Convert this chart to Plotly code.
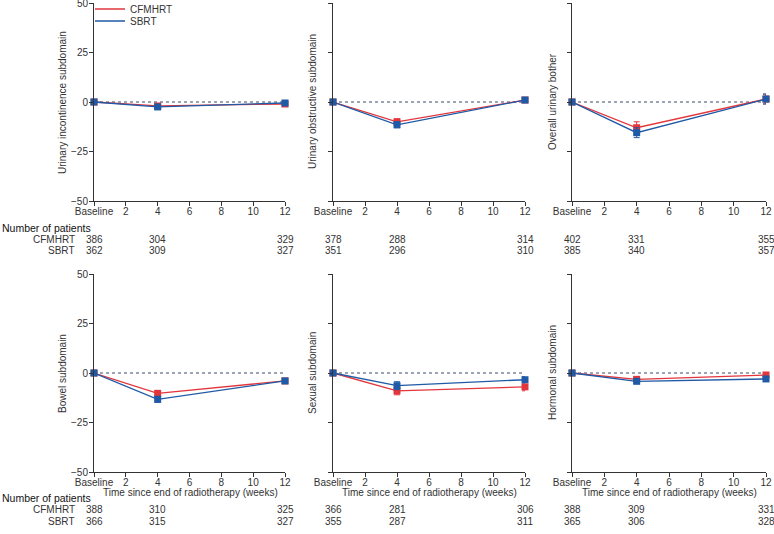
import plotly.graph_objects as go

# ---- data ----
weeks = [0, 4, 12]
x_tick_vals = [0, 2, 4, 6, 8, 10, 12]
x_tick_text = ["Baseline", "2", "4", "6", "8", "10", "12"]
y_tick_vals = [50, 25, 0, -25, -50]
y_tick_text = ["50", "25", "0", "\u221225", "\u221250"]

panel_titles = [
    "Urinary incontinence subdomain",
    "Urinary obstructive subdomain",
    "Overall urinary bother",
    "Bowel subdomain",
    "Sexual subdomain",
    "Hormonal subdomain",
]

cfmhrt_mean = [
    [0, -2.0, -1.0],
    [0, -10.0, 1.0],
    [0, -13.0, 1.5],
    [0, -10.3, -4.0],
    [0, -9.0, -7.0],
    [0, -3.2, -1.0],
]
cfmhrt_err = [
    [0.3, 1.0, 1.2],
    [0.3, 1.5, 1.0],
    [0.3, 3.0, 2.5],
    [0.3, 1.5, 1.0],
    [0.3, 2.0, 2.0],
    [0.3, 1.0, 1.0],
]
sbrt_mean = [
    [0, -2.5, -0.5],
    [0, -11.5, 1.0],
    [0, -15.5, 1.5],
    [0, -13.3, -4.0],
    [0, -6.4, -3.4],
    [0, -4.2, -3.0],
]
sbrt_err = [
    [0.3, 1.0, 1.2],
    [0.3, 1.5, 1.0],
    [0.3, 2.5, 2.5],
    [0.3, 1.5, 1.0],
    [0.3, 2.0, 1.5],
    [0.3, 1.0, 1.0],
]

n_cfmhrt = [
    [386, 304, 329],
    [378, 288, 314],
    [402, 331, 355],
    [388, 310, 325],
    [366, 281, 306],
    [388, 309, 331],
]
n_sbrt = [
    [362, 309, 327],
    [351, 296, 310],
    [385, 340, 357],
    [366, 315, 327],
    [355, 287, 311],
    [365, 306, 328],
]

RED = "#e2363c"
BLUE = "#1f5aa6"
AXIS = "#333333"
TXT = "#333333"
FONT = "Liberation Sans Narrow, Arial Narrow, Liberation Sans, sans-serif"
FS = 10
TFS = 10
W, H = 774, 534

# pixel layout of the plot areas
x_px = [(94, 285), (333, 525), (572, 766)]
y_px = [(3, 201), (274, 472)]

def px_x(p):
    return p / W

def px_y(p):
    return 1 - p / H

fig = go.Figure()
layout = {}
annotations = []
shapes = []

for i in range(6):
    row, col = divmod(i, 3)
    ax = "" if i == 0 else str(i + 1)
    xa, ya = "x" + ax, "y" + ax
    xdom = [px_x(x_px[col][0]), px_x(x_px[col][1])]
    ydom = [px_y(y_px[row][1]), px_y(y_px[row][0])]
    layout["xaxis" + ax] = dict(
        domain=xdom, anchor=ya, range=[0, 12], tickvals=x_tick_vals,
        ticktext=x_tick_text, ticks="outside", ticklen=4, tickcolor=AXIS,
        showline=True, linecolor=AXIS, linewidth=1, showgrid=False,
        zeroline=False, tickfont=dict(size=TFS, color=TXT), automargin=False,
        ticklabeloverflow="allow", ticklabelstandoff=-3,
    )
    layout["yaxis" + ax] = dict(
        domain=ydom, anchor=xa, range=[-50, 50], tickvals=y_tick_vals,
        ticktext=y_tick_text if col == 0 else [""] * 5,
        ticks="outside", ticklen=4, tickcolor=AXIS,
        showline=True, linecolor=AXIS, linewidth=1, showgrid=False,
        zeroline=False, tickfont=dict(size=TFS, color=TXT), automargin=False,
        ticklabeloverflow="allow", ticklabelstandoff=-1,
    )
    # zero reference line
    shapes.append(dict(type="line", xref=xa, yref=ya, x0=0, x1=12, y0=0, y1=0,
                       line=dict(color="#3a4a6a", width=1, dash="dot"), layer="below"))
    for mean, err, color, name in [
        (cfmhrt_mean[i], cfmhrt_err[i], RED, "CFMHRT"),
        (sbrt_mean[i], sbrt_err[i], BLUE, "SBRT"),
    ]:
        fig.add_trace(go.Scatter(
            x=weeks, y=mean, mode="lines+markers", xaxis=xa, yaxis=ya,
            line=dict(color=color, width=1.3),
            marker=dict(symbol="square", size=7, color=color),
            error_y=dict(type="data", array=err, color=color, thickness=1, width=3),
            showlegend=False, cliponaxis=False, name=name,
        ))
    # y axis title
    annotations.append(dict(
        text=panel_titles[i], xref="paper", yref="paper",
        x=px_x([62, 312, 552][col]), y=(ydom[0] + ydom[1]) / 2,
        textangle=-90, showarrow=False, font=dict(size=FS, color=TXT),
        xanchor="center", yanchor="middle",
    ))
    # x axis title on bottom row
    if row == 1:
        annotations.append(dict(
            text="Time since end of radiotherapy (weeks)", xref=xa + " domain",
            yref="paper", x=0.505, y=px_y(492), showarrow=False,
            font=dict(size=FS, color=TXT), xanchor="center", yanchor="middle",
        ))
    # number at risk
    ny = [(239, 251), (509, 521)][row]
    for j, wk in enumerate(weeks):
        annotations.append(dict(text=str(n_cfmhrt[i][j]), xref=xa, yref="paper",
                                x=wk, y=px_y(ny[0]), showarrow=False,
                                font=dict(size=FS, color=TXT),
                                xanchor="center", yanchor="middle"))
        annotations.append(dict(text=str(n_sbrt[i][j]), xref=xa, yref="paper",
                                x=wk, y=px_y(ny[1]), showarrow=False,
                                font=dict(size=FS, color=TXT),
                                xanchor="center", yanchor="middle"))
    if col == 0:
        annotations.append(dict(text="Number of patients", xref="paper", yref="paper",
                                x=0, y=px_y([228, 498][row]), showarrow=False,
                                font=dict(size=10.5, color="#111"),
                                xanchor="left", yanchor="middle"))
        for lbl, yy in [("CFMHRT", ny[0]), ("SBRT", ny[1])]:
            annotations.append(dict(text=lbl, xref="paper", yref="paper",
                                    x=px_x(77), y=px_y(yy), showarrow=False,
                                    font=dict(size=FS, color=TXT),
                                    xanchor="right", yanchor="middle"))

# legend-only entries (two legends to get tight spacing)
fig.add_trace(go.Scatter(x=[None], y=[None], mode="lines", name="CFMHRT",
                         line=dict(color=RED, width=1.3), showlegend=True,
                         legend="legend"))
fig.add_trace(go.Scatter(x=[None], y=[None], mode="lines", name="SBRT",
                         line=dict(color=BLUE, width=1.3), showlegend=True,
                         legend="legend2"))

leg_common = dict(xanchor="left", yanchor="middle", bgcolor="rgba(0,0,0,0)",
                  font=dict(size=FS, color=TXT), borderwidth=0,
                  xref="container", yref="container")

fig.update_layout(
    template="none",
    width=W, height=H, margin=dict(l=0, r=0, t=0, b=0, autoexpand=False),
    paper_bgcolor="white", plot_bgcolor="white",
    font=dict(family=FONT, size=FS, color=TXT),
    annotations=annotations, shapes=shapes,
    legend=dict(x=px_x(90), y=px_y(9), **leg_common),
    legend2=dict(x=px_x(90), y=px_y(21), **leg_common),
    **layout,
)

fig.write_html("out.html", config={"displayModeBar": False},
               post_script="document.body.style.margin='0';")
